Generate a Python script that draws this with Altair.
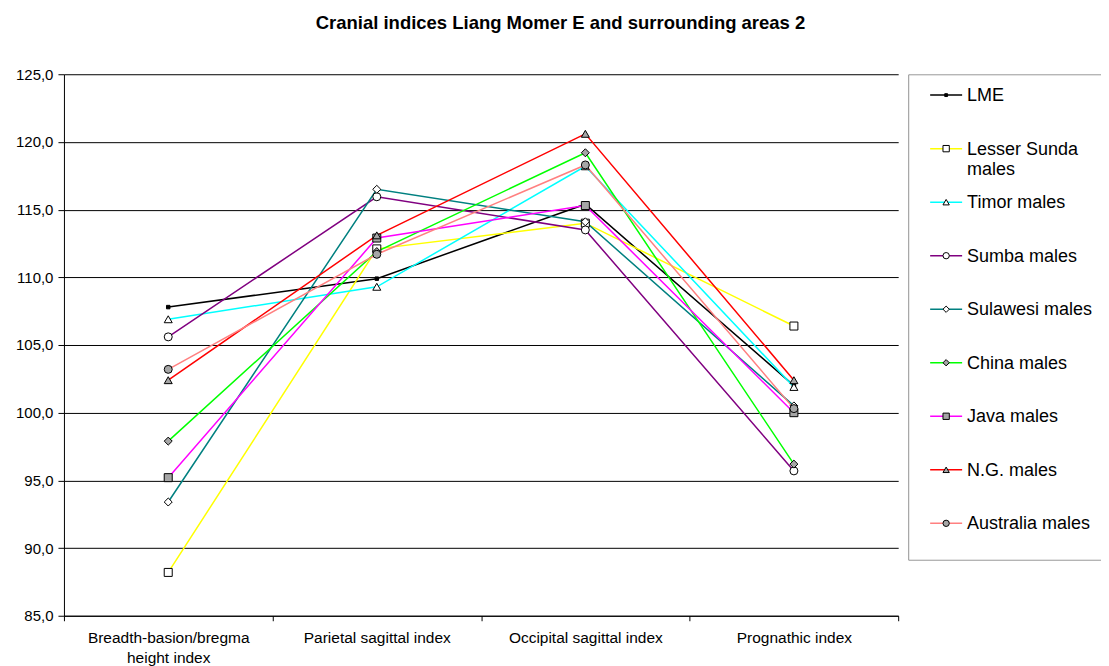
import altair as alt
import pandas as pd

categories = ["Breadth-basion/bregma height index", "Parietal sagittal index",
              "Occipital sagittal index", "Prognathic index"]
series = ["LME", "Lesser Sunda males", "Timor males", "Sumba males", "Sulawesi males",
          "China males", "Java males", "N.G. males", "Australia males"]
legend_labels = ["LME", "Lesser Sunda\nmales", "Timor males", "Sumba males", "Sulawesi males",
                 "China males", "Java males", "N.G. males", "Australia males"]

lme = [107.8, 109.9, 115.4, 102.0]
lesser_sunda = [88.2, 112.1, 114.0, 106.4]
timor = [106.9, 109.3, 118.2, 101.9]
sumba = [105.6, 115.95, 113.5, 95.7]
sulawesi = [93.4, 116.5, 114.1, 100.5]
china = [97.9, 111.9, 119.2, 96.2]
java = [95.2, 112.9, 115.3, 100.0]
ng = [102.4, 113.1, 120.6, 102.4]
australia = [103.2, 111.7, 118.3, 100.3]

values = [lme, lesser_sunda, timor, sumba, sulawesi, china, java, ng, australia]

line_colors = ["#000000", "#FFFF00", "#00FFFF", "#800080", "#008080",
               "#00FF00", "#FF00FF", "#FF0000", "#FF8080"]
shapes = ["square", "square", "triangle-up", "circle", "diamond",
          "diamond", "square", "triangle-up", "circle"]
fills = ["#000000", "#FFFFFF", "#FFFFFF", "#FFFFFF", "#FFFFFF",
         "#A6A6A6", "#A6A6A6", "#A6A6A6", "#A6A6A6"]

rows = []
for s, vals in zip(series, values):
    for i, (c, v) in enumerate(zip(categories, vals)):
        rows.append({"series": s, "category": c, "ci": i, "value": v})
df = pd.DataFrame(rows)

FONT = "Liberation Sans"

color_enc = alt.Color("series:N", scale=alt.Scale(domain=series, range=line_colors), legend=None)
shape_enc = alt.Shape("series:N", scale=alt.Scale(domain=series, range=shapes), legend=None)
fill_enc = alt.Fill("series:N", scale=alt.Scale(domain=series, range=fills), legend=None)

x_enc = alt.X(
    "category:N",
    sort=categories,
    scale=alt.Scale(type="band", domain=categories, paddingInner=0, paddingOuter=0),
    axis=alt.Axis(
        title=None, labelAngle=0, tickBand="extent", tickSize=5, tickColor="black",
        domainColor="black", labelColor="black", labelFontSize=15.5, labelFont=FONT,
        labelPadding=10, labelLineHeight=20, labelLimit=400,
        labelExpr="datum.label == 'Breadth-basion/bregma height index' ? ['Breadth-basion/bregma', 'height index'] : datum.label",
    ),
)
y_enc = alt.Y(
    "value:Q",
    scale=alt.Scale(domain=[85, 125], nice=False, zero=False),
    axis=alt.Axis(
        title=None, values=list(range(85, 126, 5)),
        labelExpr="replace(format(datum.value, '.1f'), '.', ',')",
        grid=True, gridColor="black", gridWidth=1, gridOpacity=1,
        tickSize=6, tickColor="black", domainColor="black",
        labelColor="black", labelFontSize=15, labelFont=FONT, labelPadding=5,
        minExtent=56,
    ),
)

base = alt.Chart(df)
lines = base.mark_line(strokeWidth=1.5).encode(
    x=x_enc, y=y_enc, color=color_enc, detail="series:N", order=alt.Order("ci:Q")
)
points_lme = base.transform_filter(alt.datum.series == "LME").mark_point(
    filled=True, opacity=1, stroke="black", strokeWidth=1, size=12
).encode(x=x_enc, y=y_enc, shape=shape_enc, fill=fill_enc)
points = base.transform_filter(alt.datum.series != "LME").mark_point(
    filled=True, opacity=1, stroke="black", strokeWidth=1, size=64
).encode(x=x_enc, y=y_enc, shape=shape_enc, fill=fill_enc)
main = alt.layer(lines, points_lme, points).properties(width=835, height=542)

LEG_W = 193
LEG_H = 487
leg_df = pd.DataFrame({"series": series, "label": legend_labels, "idx": list(range(len(series)))})
ly = alt.Y("idx:Q", scale=alt.Scale(domain=[-0.39, 8.70], reverse=True, nice=False, zero=False), axis=None)
leg_base = alt.Chart(leg_df)
leg_box = alt.Chart(pd.DataFrame({"box": [0]})).mark_rect(
    fill="white", stroke="#808080", strokeWidth=1, clip=True
).encode(x=alt.value(0.5), x2=alt.value(LEG_W + 20), y=alt.value(0.5), y2=alt.value(LEG_H - 0.5))
leg_rules = leg_base.mark_rule(strokeWidth=1.5).encode(
    x=alt.value(22), x2=alt.value(54), y=ly, color=color_enc
)
leg_pts_lme = leg_base.transform_filter(alt.datum.series == "LME").mark_point(
    filled=True, opacity=1, stroke="black", strokeWidth=1, size=8
).encode(x=alt.value(38), y=ly, shape=shape_enc, fill=fill_enc)
leg_pts = leg_base.transform_filter(alt.datum.series != "LME").mark_point(
    filled=True, opacity=1, stroke="black", strokeWidth=1, size=40
).encode(x=alt.value(38), y=ly, shape=shape_enc, fill=fill_enc)
leg_txt = leg_base.mark_text(
    align="left", baseline="alphabetic", dy=6, lineBreak="\n", lineHeight=20,
    fontSize=18, font=FONT, color="black"
).encode(x=alt.value(59), y=ly, text="label:N")
legend = alt.layer(leg_box, leg_rules, leg_pts_lme, leg_pts, leg_txt).properties(
    width=LEG_W, height=LEG_H
)

chart = alt.hconcat(main, legend, spacing=9).properties(
    title=alt.TitleParams(
        "Cranial indices Liang Momer E and surrounding areas 2",
        fontSize=18.5, fontWeight="bold", font=FONT, color="black",
        anchor="middle", offset=35, dx=6,
    ),
    padding={"left": 0, "top": 5, "right": 0, "bottom": 0},
).configure_view(strokeWidth=0)

chart.save("out.html", embed_options={"renderer": "svg", "actions": False})
